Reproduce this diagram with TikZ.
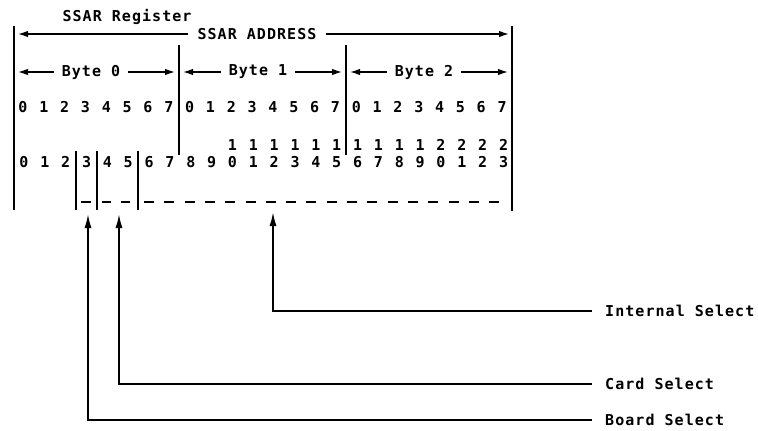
\documentclass[tikz,border=0pt]{standalone}
\usepackage{fontspec}
\setmainfont{DejaVu Sans Mono}[LetterSpace=7,BoldFont={DejaVu Sans Mono Bold}]
\usetikzlibrary{arrows.meta}
\begin{document}
\begin{tikzpicture}[x=1pt,y=-1pt,
  txt/.style={inner sep=0pt, font=\fontsize{15}{17}\selectfont\bfseries},
  dig/.style={inner sep=0pt, font=\fontsize{15}{17}\selectfont\bfseries},
  bar/.style={line width=1.9pt},
  sep/.style={line width=1.7pt},
  hdr/.style={line width=1.4pt, -{Latex[length=10pt,width=6.5pt]}},
  ptr/.style={line width=1.7pt, -{Latex[length=14pt,width=7pt]}},
  dsh/.style={line width=1.7pt}]
\useasboundingbox (0,0) rectangle (758,431);
% frame
\coordinate (LT) at (14,26); \coordinate (LB) at (14,210);
\coordinate (RT) at (512,26); \coordinate (RB) at (512,211);
\draw[bar] (LT) -- (LB);
\draw[bar] (RT) -- (RB);
% title
\node[txt] (reg) at (127,17) {SSAR Register};
\node[txt] (addr) at (257,34) {SSAR ADDRESS};
\coordinate (aL) at (18,34); \coordinate (aR) at (509,34);
\draw[hdr] ([xshift=-9pt]addr.west) -- (aL);
\draw[hdr] ([xshift=9pt]addr.east) -- (aR);
% byte separators
\coordinate (s1t) at (179,45); \coordinate (s1b) at (179,155);
\coordinate (s2t) at (346,45); \coordinate (s2b) at (346,155);
\draw[sep] (s1t) -- (s1b);
\draw[sep] (s2t) -- (s2b);
% byte labels
\node[txt] (b0) at (91,72) {Byte 0};
\node[txt] (b1) at (258,72) {Byte 1};
\node[txt] (b2) at (424,72) {Byte 2};
\coordinate (b0l) at (18,72); \coordinate (b0r) at (175,72);
\coordinate (b1l) at (183,72); \coordinate (b1r) at (342,72);
\coordinate (b2l) at (350,72); \coordinate (b2r) at (508,72);
\draw[hdr] ([xshift=-8pt]b0.west) -- (b0l);
\draw[hdr] ([xshift=8pt]b0.east) -- (b0r);
\draw[hdr] ([xshift=-8pt]b1.west) -- (b1l);
\draw[hdr] ([xshift=8pt]b1.east) -- (b1r);
\draw[hdr] ([xshift=-8pt]b2.west) -- (b2l);
\draw[hdr] ([xshift=8pt]b2.east) -- (b2r);
% bit numbers within bytes
\foreach \k in {0,...,23}{
  \pgfmathtruncatemacro{\d}{mod(\k,8)}
  \node[dig] (r1n\k) at (23+20.83*\k,107) {\d};
}
% address bit numbers
\foreach \k in {0,...,23}{
  \pgfmathtruncatemacro{\d}{mod(\k,10)}
  \node[dig] (r2n\k) at (24+20.85*\k,162) {\d};
}
\foreach \k in {10,...,23}{
  \pgfmathtruncatemacro{\t}{int(\k/10)}
  \node[dig] (r2t\k) at (24+20.85*\k,145) {\t};
}
% field bars
\coordinate (f1t) at (76,151); \coordinate (f1b) at (76,210);
\coordinate (f2t) at (97,151); \coordinate (f2b) at (97,210);
\coordinate (f3t) at (138,151); \coordinate (f3b) at (138,210);
\draw[sep] (f1t) -- (f1b);
\draw[sep] (f2t) -- (f2b);
\draw[sep] (f3t) -- (f3b);
% dashed field line
\coordinate (d1a) at (81,202); \coordinate (d1b) at (91,202);
\coordinate (d2a) at (102,202); \coordinate (d2b) at (134,202);
\coordinate (d3a) at (144,202); \coordinate (d3b) at (509,202);
\draw[dsh] (d1a) -- (d1b);
\draw[dsh, dash pattern=on 9pt off 10pt] (d2a) -- (d2b);
\draw[dsh, dash pattern=on 10pt off 10.3pt] (d3a) -- (d3b);
% pointers
\coordinate (isTip) at (273,212); \coordinate (isC) at (273,311); \coordinate (isE) at (592,311);
\coordinate (csTip) at (119,214); \coordinate (csC) at (119,384); \coordinate (csE) at (592,384);
\coordinate (bsTip) at (88,214); \coordinate (bsC) at (88,420); \coordinate (bsE) at (592,420);
\draw[ptr] (isE) -- (isC) -- (isTip);
\draw[ptr] (csE) -- (csC) -- (csTip);
\draw[ptr] (bsE) -- (bsC) -- (bsTip);
\node[txt, anchor=west] (isL) at (605,311) {Internal Select};
\node[txt, anchor=west] (csL) at (605,384) {Card Select};
\node[txt, anchor=west] (bsL) at (605,420) {Board Select};
\end{tikzpicture}
\end{document}
